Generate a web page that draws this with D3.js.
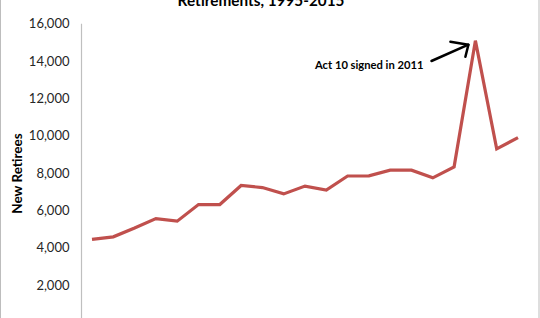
<!DOCTYPE html>
<html><head><meta charset="utf-8">
<script src="https://cdn.jsdelivr.net/npm/d3@7"></script>
<style>html,body{margin:0;padding:0;background:#fff;overflow:hidden}</style>
</head><body>
<svg id="c" width="540" height="318"></svg>
<script>
const years = [1995,1996,1997,1998,1999,2000,2001,2002,2003,2004,2005,2006,2007,2008,2009,2010,2011,2012,2013,2014,2015];
const retirees = [4440,4580,5050,5560,5420,6310,6310,7330,7220,6880,7300,7080,7840,7850,8150,8150,7740,8330,15090,9290,9900];
const yTicks = [2000,4000,6000,8000,10000,12000,14000,16000];
const titleText = "Retirements, 1995-2015";
const yLabel = "New Retirees";
const note = "Act 10 signed in 2011";

const svg = d3.select("#c");
const x = d3.scaleLinear().domain([1995,2015]).range([92,518]);
const y = d3.scaleLinear().domain([0,16000]).range([322.3,23.7]);

// frame
svg.append("rect").attr("x",0.5).attr("y",-10).attr("width",538.5).attr("height",340)
  .attr("fill","none").attr("stroke","#bdbdbd").attr("stroke-width",1);

// title
svg.append("text").attr("x",261).attr("y",5.5).attr("text-anchor","middle")
  .attr("font-family","Lato, 'Open Sans', sans-serif").attr("font-weight","bold")
  .attr("font-size",15.3).attr("fill","#000").text(titleText);

// y axis
const ax = svg.append("g").attr("transform","translate(81.5,0)")
  .call(d3.axisLeft(y).tickValues(yTicks).tickSize(0).tickPadding(12).tickFormat(d3.format(",")));
ax.select(".domain").attr("stroke","#bfbfbf").attr("stroke-width",1.2)
  .attr("d", `M0,${y(16000)}V${330}`);
ax.selectAll("text").attr("font-family","Lato, sans-serif").attr("font-size",13).attr("fill","#262626");

// y label
svg.append("text").attr("transform","translate(21.5,173.5) rotate(-90)").attr("text-anchor","middle")
  .attr("font-family","Lato, sans-serif").attr("font-weight","bold").attr("font-size",13.5)
  .attr("fill","#000").text(yLabel);

// line
const line = d3.line().x((d,i)=>x(years[i])).y(d=>y(d));
svg.append("path").datum(retirees).attr("d",line).attr("fill","none")
  .attr("stroke","#c0504d").attr("stroke-width",3.2).attr("stroke-linejoin","miter");

// annotation
svg.append("text").attr("x",315).attr("y",69)
  .attr("font-family","Lato, sans-serif").attr("font-weight","bold").attr("font-size",11.2)
  .attr("fill","#000").text(note);
const tipX = x(2013) - 7, tipY = y(15090) + 4;
svg.append("path").attr("d",`M431.5,61 L${tipX},${tipY}`)
  .attr("stroke","#000").attr("stroke-width",2.5).attr("fill","none").attr("stroke-linecap","round");
svg.append("path").attr("d",`M${tipX-18},${tipY-3} L${tipX},${tipY} L${tipX-3},${tipY+12}`)
  .attr("stroke","#000").attr("stroke-width",2.5).attr("fill","none")
  .attr("stroke-linecap","round").attr("stroke-linejoin","round");
</script>
</body></html>
